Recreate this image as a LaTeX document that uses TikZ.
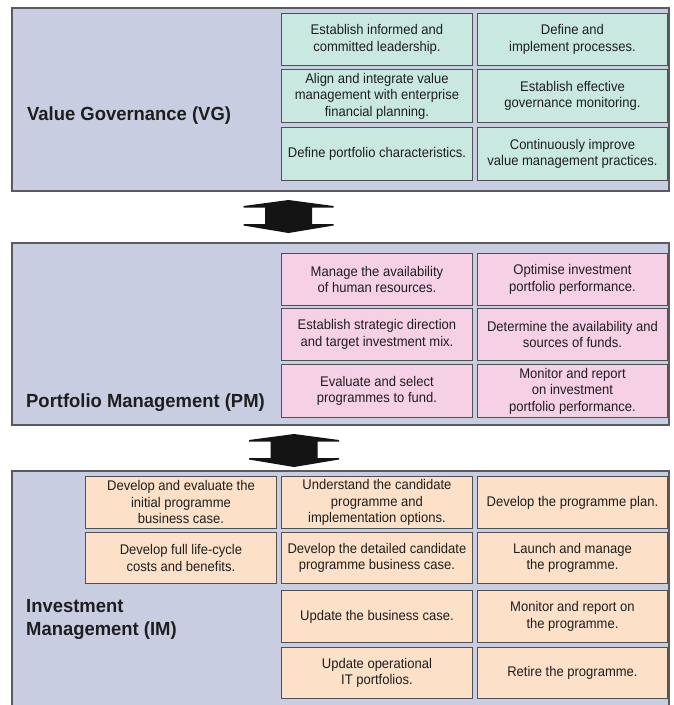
\documentclass[tikz,border=0pt]{standalone}
\usepackage{fontspec}
\setmainfont{Liberation Sans}[FakeStretch=0.93]
\newfontfamily\labelfont{Liberation Sans}[FakeStretch=0.97]
\definecolor{panelfill}{RGB}{201,205,226}
\definecolor{panelline}{RGB}{90,90,95}
\definecolor{vgfill}{RGB}{201,233,224}
\definecolor{pmfill}{RGB}{246,208,228}
\definecolor{imfill}{RGB}{252,224,200}
\definecolor{boxline}{RGB}{80,80,80}
\definecolor{txt}{RGB}{30,30,30}
\tikzset{
  panel/.style={draw=panelline, line width=1.1pt, fill=panelfill},
  cell/.style={draw=boxline, line width=0.9pt, anchor=north west, inner sep=0pt,
    align=center, text=txt, font=\fontsize{14}{16.5}\selectfont},
  vgc/.style={cell, fill=vgfill},
  pmc/.style={cell, fill=pmfill},
  imc/.style={cell, fill=imfill},
  plabel/.style={anchor=west, inner sep=0pt, text=txt, align=left,
    font=\labelfont\fontsize{19}{23}\selectfont\bfseries},
}
\newcommand{\dblarrow}[3]{% center x, top y, bottom y
  \fill[black!92] (#1,#2) -- (#1+45,#2+6) -- (#1+45,#2+7.5) -- (#1+23.5,#2+7.5)
    -- (#1+23.5,#3-9) -- (#1+45,#3-9) -- (#1+45,#3-7.5) -- (#1,#3)
    -- (#1-45,#3-7.5) -- (#1-45,#3-9) -- (#1-23.5,#3-9) -- (#1-23.5,#2+7.5)
    -- (#1-45,#2+7.5) -- (#1-45,#2+6) -- cycle;}
\begin{document}
\begin{tikzpicture}[x=1pt,y=-1pt]
\useasboundingbox (0,0) rectangle (673,705);
\fill[white] (0,0) rectangle (673,705);
% Value Governance
\draw[panel] (12,8) rectangle (669,191);
\node[plabel] (vg) at (27,116) {Value Governance (VG)};
\node[vgc, minimum width=191pt, minimum height=52pt] (vg11) at (281,13) {Establish informed and\\committed leadership.};
\node[vgc, minimum width=190pt, minimum height=52pt] (vg12) at (477,13) {Define and\\implement processes.};
\node[vgc, minimum width=191pt, minimum height=53pt] (vg21) at (281,69) {Align and integrate value\\management with enterprise\\financial planning.};
\node[vgc, minimum width=190pt, minimum height=53pt] (vg22) at (477,69) {Establish effective\\governance monitoring.};
\node[vgc, minimum width=191pt, minimum height=53pt] (vg31) at (281,127) {Define portfolio characteristics.};
\node[vgc, minimum width=190pt, minimum height=53pt] (vg32) at (477,127) {Continuously improve\\value management practices.};
% arrow 1
\dblarrow{288.5}{200}{233}
% Portfolio Management
\draw[panel] (12,243) rectangle (669,425);
\node[plabel] (pm) at (26,403) {Portfolio Management (PM)};
\node[pmc, minimum width=191pt, minimum height=52pt] (pm11) at (281,253) {Manage the availability\\of human resources.};
\node[pmc, minimum width=190pt, minimum height=52pt] (pm12) at (477,253) {Optimise investment\\portfolio performance.};
\node[pmc, minimum width=191pt, minimum height=52pt] (pm21) at (281,308) {Establish strategic direction\\and target investment mix.};
\node[pmc, minimum width=190pt, minimum height=52pt] (pm22) at (477,308) {Determine the availability and\\sources of funds.};
\node[pmc, minimum width=191pt, minimum height=53pt] (pm31) at (281,364) {Evaluate and select\\programmes to fund.};
\node[pmc, minimum width=190pt, minimum height=53pt] (pm32) at (477,364) {Monitor and report\\on investment\\portfolio performance.};
% arrow 2
\dblarrow{294}{434}{467}
% Investment Management
\draw[panel] (12,471) rectangle (669,706);
\node[plabel] (im) at (26,619) {Investment\\Management (IM)};
\node[imc, minimum width=191pt, minimum height=52pt] (im10) at (85,476) {Develop and evaluate the\\initial programme\\business case.};
\node[imc, minimum width=191pt, minimum height=52pt] (im11) at (281,476) {Understand the candidate\\programme and\\implementation options.};
\node[imc, minimum width=190pt, minimum height=52pt] (im12) at (477,476) {Develop the programme plan.};
\node[imc, minimum width=191pt, minimum height=51pt] (im20) at (85,532) {Develop full life-cycle\\costs and benefits.};
\node[imc, minimum width=191pt, minimum height=51pt] (im21) at (281,532) {Develop the detailed candidate\\programme business case.};
\node[imc, minimum width=190pt, minimum height=51pt] (im22) at (477,532) {Launch and manage\\the programme.};
\node[imc, minimum width=191pt, minimum height=52pt] (im31) at (281,590) {Update the business case.};
\node[imc, minimum width=190pt, minimum height=52pt] (im32) at (477,590) {Monitor and report on\\the programme.};
\node[imc, minimum width=191pt, minimum height=51pt] (im41) at (281,647) {Update operational\\IT portfolios.};
\node[imc, minimum width=190pt, minimum height=51pt] (im42) at (477,647) {Retire the programme.};
\end{tikzpicture}
\end{document}
